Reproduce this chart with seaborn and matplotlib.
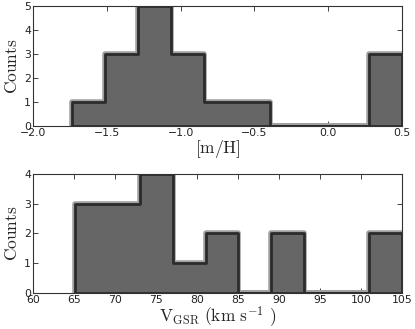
import numpy as np
import pandas as pd
import matplotlib
matplotlib.use("Agg")
import matplotlib.pyplot as plt
import matplotlib.patheffects as pe
import seaborn as sns

# Top panel: [m/H]
mh_edges = [-1.734, -1.5105, -1.287, -1.0635, -0.84, -0.6165, -0.393, -0.1695, 0.054, 0.2775, 0.501]
mh_counts = [1, 3, 5, 3, 1, 1, 0, 0, 0, 3]

# Bottom panel: V_GSR
v_edges = [65.1, 69.09, 73.08, 77.07, 81.06, 85.05, 89.04, 93.03, 97.02, 101.01, 105.0]
v_counts = [3, 3, 4, 1, 2, 0, 2, 0, 0, 2]

sns.set_style("ticks")
plt.rcParams['font.family'] = ['DejaVu Sans']
plt.rcParams['mathtext.fontset'] = 'cm'

fig = plt.figure(figsize=(4.15, 3.29), dpi=100)
ax1 = fig.add_axes([0.0795, 0.617, 0.889, 0.365])
ax2 = fig.add_axes([0.0795, 0.110, 0.889, 0.361])

effects = [pe.Normal(),
           pe.Stroke(linewidth=4.0, foreground='#a0a0a0'),
           pe.Stroke(linewidth=2.0, foreground='#2b2b2b')]

def draw(ax, edges, counts, xlim, ylim, xticks, xlabel):
    e = np.array(edges)
    centers = (e[:-1] + e[1:]) / 2
    df = pd.DataFrame({'x': centers, 'w': np.array(counts, dtype=float)})
    sns.histplot(data=df, x='x', weights='w', bins=list(edges), element='step',
                 fill=True, color='#666666', alpha=1.0, ax=ax,
                 edgecolor='#2b2b2b', linewidth=2.0, path_effects=effects)
    ax.set_xlim(*xlim)
    ax.set_ylim(*ylim)
    ax.set_xticks(xticks)
    ax.set_yticks(range(ylim[0], ylim[1] + 1))
    ax.tick_params(direction='in', top=True, right=True, labelsize=7.8,
                   length=3.5, width=0.6, pad=1.5, colors='#222222')
    for s in ax.spines.values():
        s.set_linewidth(0.8)
        s.set_color('#333333')
        s.set_visible(True)
    ax.set_xlabel(xlabel, fontsize=12.5, labelpad=0)
    ax.set_ylabel(r'$\mathrm{Counts}$', fontsize=12.5, labelpad=2)

draw(ax1, mh_edges, mh_counts, (-2.0, 0.5), (0, 5),
     [-2.0, -1.5, -1.0, -0.5, 0.0, 0.5], r'$\mathrm{[m/H]}$')
draw(ax2, v_edges, v_counts, (60, 105), (0, 4),
     list(range(60, 106, 5)), r'$\mathrm{V_{GSR}\ (km\ s^{-1}\ )}$')

fig.savefig('out.png', dpi=100)
